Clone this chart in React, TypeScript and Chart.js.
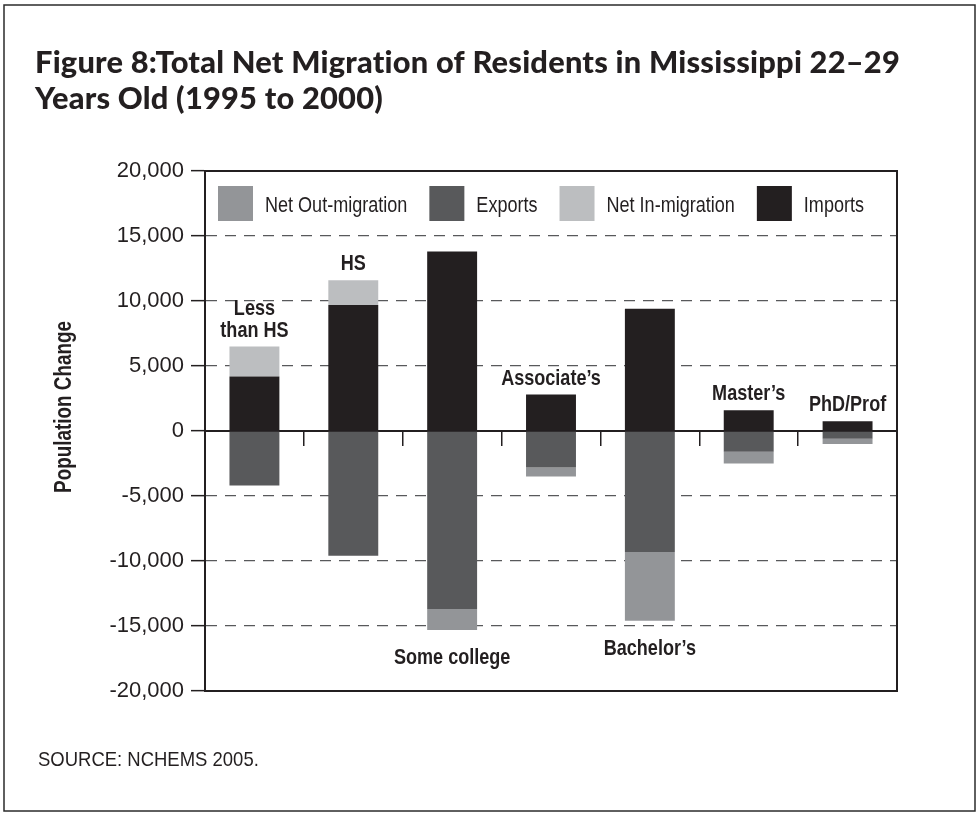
import React, { useEffect, useRef } from "react";
import { Chart, registerables } from "chart.js";

Chart.register(...registerables);

// ---------- data ----------
const categories: (string | string[])[] = [
  ["Less", "than HS"],
  "HS",
  "Some college",
  "Associate’s",
  "Bachelor’s",
  "Master’s",
  "PhD/Prof",
];
const imports = [4200, 9700, 13800, 2800, 9400, 1600, 750];
const netInMigration = [2300, 1900, 0, 0, 0, 0, 0];
const exportsOut = [-4200, -9600, -13700, -2800, -9300, -1600, -600];
const netOutMigration = [0, 0, -1600, -700, -5300, -900, -400];
const yTickValues = [-20000, -15000, -10000, -5000, 0, 5000, 10000, 15000, 20000];
const legendOrder = ["Net Out-migration", "Exports", "Net In-migration", "Imports"];
const labelBelow = [false, false, true, false, true, false, false];

const titleLines = [
  "Figure 8:Total Net Migration of Residents in Mississippi 22–29",
  "Years Old (1995 to 2000)",
];
const yAxisTitle = "Population Change";
const sourceText = "SOURCE: NCHEMS 2005.";

// ---------- styles ----------
const INK = "#231f20";
const SANS = '"Liberation Sans", Arial, Helvetica, sans-serif';
const COND = 0.82;

function drawScaledText(
  ctx: CanvasRenderingContext2D,
  text: string,
  x: number,
  y: number,
  font: string,
  align: "left" | "center" | "right",
  scale: number,
  spacing = "0px"
) {
  ctx.save();
  ctx.font = font;
  (ctx as any).letterSpacing = spacing;
  ctx.textBaseline = "alphabetic";
  ctx.textAlign = "left";
  const w = ctx.measureText(text).width * scale;
  const left = align === "center" ? x - w / 2 : align === "right" ? x - w : x;
  ctx.translate(left, y);
  ctx.scale(scale, 1);
  ctx.fillText(text, 0, 0);
  ctx.restore();
  return w;
}

const decorPlugin = {
  id: "decor",
  beforeDraw(chart: any) {
    const { ctx, width, height } = chart;
    ctx.save();
    ctx.fillStyle = "#ffffff";
    ctx.fillRect(0, 0, width, height);
    ctx.restore();
  },
  afterDraw(chart: any) {
    const { ctx, chartArea: ca } = chart;
    const xs = chart.scales.x;
    const ys = chart.scales.y;
    ctx.save();
    ctx.fillStyle = INK;

    // outer frame
    ctx.strokeStyle = "#2b2b2b";
    ctx.lineWidth = 1.5;
    ctx.strokeRect(4, 5, 971, 806);

    // plot frame
    ctx.strokeStyle = INK;
    ctx.lineWidth = 2;
    ctx.strokeRect(ca.left, ca.top, ca.right - ca.left, ca.bottom - ca.top);

    // title
    const tFont = `900 30px Lato, ${SANS}`;
    ctx.save();
    ctx.font = tFont;
    (ctx as any).letterSpacing = "0.2px";
    const w0 = ctx.measureText(titleLines[0]).width;
    ctx.restore();
    const tScale = 865 / w0;
    drawScaledText(ctx, titleLines[0], 35, 73, tFont, "left", tScale, "0.2px");
    drawScaledText(ctx, titleLines[1], 35, 109, tFont, "left", tScale, "0.2px");

    // source
    drawScaledText(ctx, sourceText, 38, 766, `400 21px ${SANS}`, "left", 0.88);

    // y-axis title
    ctx.save();
    ctx.translate(63, 407);
    ctx.rotate(-Math.PI / 2);
    drawScaledText(ctx, yAxisTitle, 0, 8, `700 23px ${SANS}`, "center", COND);
    ctx.restore();

    // legend
    let lx = ca.left + 13;
    const ly = ca.top + 15;
    legendOrder.forEach((name) => {
      const ds = chart.data.datasets.find((d: any) => d.label === name);
      ctx.fillStyle = ds.backgroundColor;
      ctx.fillRect(lx, ly, 35, 35);
      ctx.fillStyle = INK;
      const tw = drawScaledText(ctx, name, lx + 47, ly + 26, `400 22px ${SANS}`, "left", COND);
      lx += 47 + tw + 22;
    });

    // category labels at bar ends
    categories.forEach((cat, i) => {
      const lines = Array.isArray(cat) ? cat : [cat];
      const cx = xs.getPixelForValue(i);
      const font = `700 22px ${SANS}`;
      if (labelBelow[i]) {
        const bottom = ys.getPixelForValue(exportsOut[i] + netOutMigration[i]);
        lines.forEach((ln, k) => {
          drawScaledText(ctx, ln, cx, bottom + 18 + 16 + k * 22, font, "center", COND);
        });
      } else {
        const top = ys.getPixelForValue(imports[i] + netInMigration[i]);
        const n = lines.length;
        lines.forEach((ln, k) => {
          drawScaledText(ctx, ln, cx, top - 10 - (n - 1 - k) * 22, font, "center", COND);
        });
      }
    });
    ctx.restore();
  },
};

export default function App() {
  const ref = useRef<HTMLCanvasElement | null>(null);
  useEffect(() => {
    if (!ref.current) return;
    const chart = new Chart(ref.current, {
      type: "bar",
      data: {
        labels: categories as any,
        datasets: [
          { label: "Imports", data: imports, backgroundColor: "#231f20" },
          { label: "Exports", data: exportsOut, backgroundColor: "#58595b" },
          { label: "Net In-migration", data: netInMigration, backgroundColor: "#bcbec0" },
          { label: "Net Out-migration", data: netOutMigration, backgroundColor: "#939598" },
        ],
      },
      options: {
        responsive: false,
        maintainAspectRatio: false,
        animation: false,
        devicePixelRatio: 1,
        layout: { padding: { left: 0, top: 171, right: 80, bottom: 122 } },
        datasets: {
          bar: { categoryPercentage: 0.505, barPercentage: 1, borderWidth: 0 },
        },
        plugins: {
          legend: { display: false },
          tooltip: { enabled: false },
          title: { display: false },
        },
        scales: {
          x: {
            type: "category",
            stacked: true,
            position: { y: 0 } as any,
            offset: true,
            ticks: { display: false },
            grid: {
              offset: true,
              drawOnChartArea: false,
              drawTicks: true,
              tickLength: 14,
              color: INK,
              tickColor: INK,
              tickWidth: 1.5,
              lineWidth: 1.5,
            },
            border: { display: true, color: INK, width: 2 },
          },
          y: {
            type: "linear",
            stacked: true,
            position: "left",
            min: -20000,
            max: 20000,
            afterBuildTicks: (s: any) => {
              s.ticks = yTickValues.map((v) => ({ value: v }));
            },
            afterFit: (s: any) => {
              s.width = 205;
            },
            ticks: {
              color: INK,
              padding: 7,
              font: { family: SANS, size: 22 },
              callback: (v: any) => Number(v).toLocaleString("en-US"),
            },
            grid: {
              drawTicks: true,
              tickLength: 14,
              tickColor: INK,
              tickWidth: 1.5,
              lineWidth: 1.3,
              color: (c: any) =>
                c.tick && (c.tick.value === 0 || Math.abs(c.tick.value) === 20000)
                  ? "rgba(0,0,0,0)"
                  : "#58595b",
            },
            border: { display: true, color: INK, width: 2, dash: [11, 8] },
          },
        },
      },
      plugins: [decorPlugin],
    });
    return () => chart.destroy();
  }, []);
  return (
    <div style={{ position: "fixed", left: 0, top: 0, width: 977, height: 813, background: "#fff" }}>
      <canvas ref={ref} width={977} height={813} style={{ width: 977, height: 813 }} />
    </div>
  );
}
